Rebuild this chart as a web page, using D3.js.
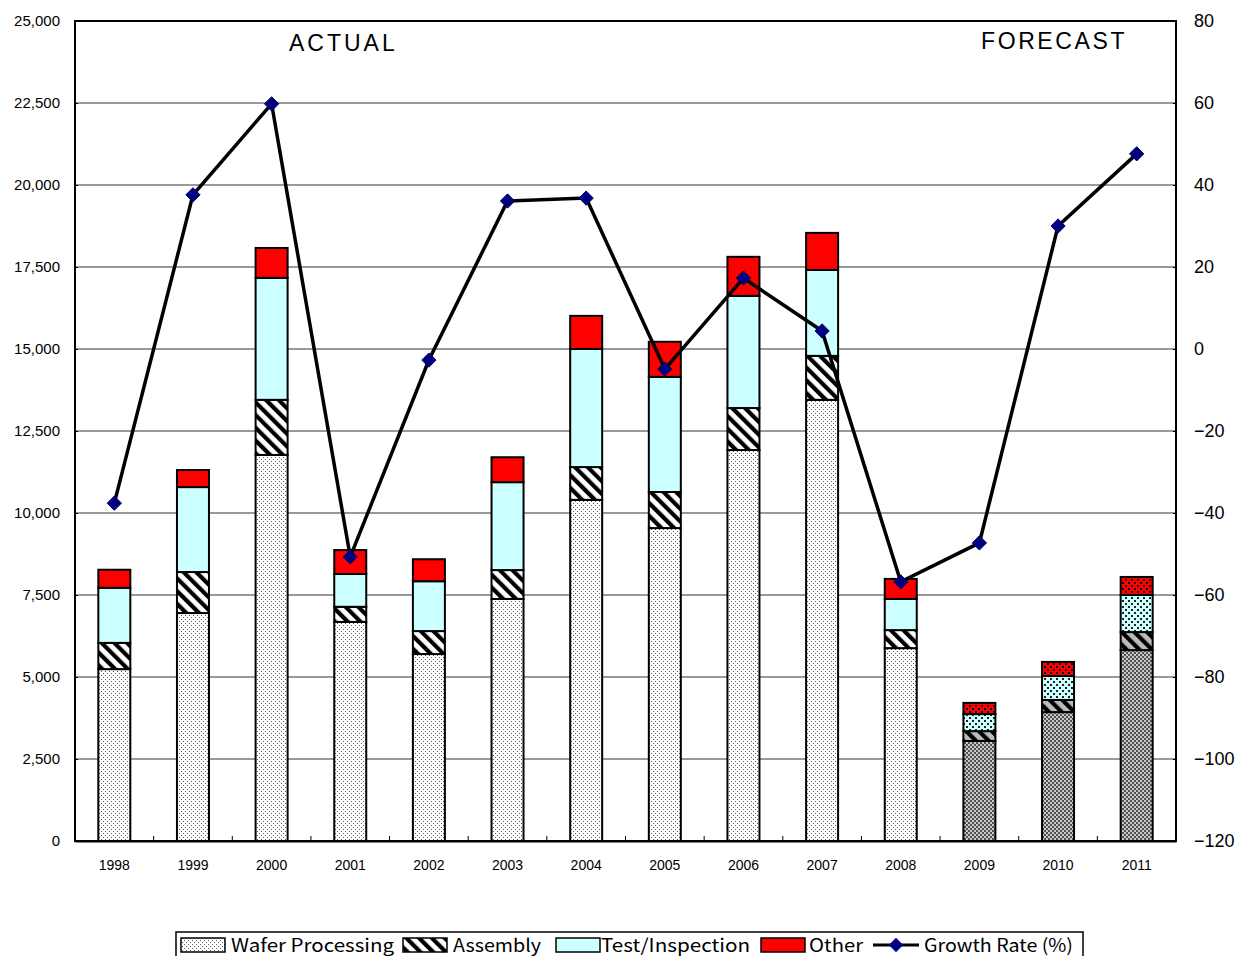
<!DOCTYPE html>
<html>
<head>
<meta charset="utf-8">
<script src="https://cdn.jsdelivr.net/npm/d3@7"></script>
<style>
  body { margin: 0; background: #fff; }
  svg { display: block; }
</style>
</head>
<body>
<div id="chart"></div>
<script>
// data
var years = ["1998","1999","2000","2001","2002","2003","2004","2005","2006","2007","2008","2009","2010","2011"];
var wafer = [5240, 6950, 11770, 6680, 5700, 7380, 10400, 9540, 11920, 13450, 5880, 3050, 3930, 5820];
var assembly = [800, 1250, 1680, 460, 700, 880, 1000, 1100, 1280, 1340, 550, 300, 370, 550];
var testInsp = [1680, 2590, 3720, 1000, 1520, 2680, 3600, 3510, 3420, 2620, 950, 520, 730, 1130];
var other = [550, 520, 910, 730, 670, 760, 1010, 1070, 1190, 1130, 610, 340, 430, 550];
var growth = [-37.6, 37.6, 59.8, -50.7, -2.7, 36.1, 36.8, -4.9, 17.3, 4.4, -56.8, -47.3, 30.0, 47.6];
var forecastFrom = "2009";
var leftTicks = [0, 2500, 5000, 7500, 10000, 12500, 15000, 17500, 20000, 22500, 25000];
var rightTicks = [-120, -100, -80, -60, -40, -20, 0, 20, 40, 60, 80];

var margin = { top: 21, right: 64, bottom: 115, left: 75 },
    width = 1240 - margin.left - margin.right,
    height = 956 - margin.top - margin.bottom;

var svg = d3.select("#chart")
    .append("svg")
    .attr("width", 1240)
    .attr("height", 956);

// patterns
var defs = svg.append("defs");

function dotPattern(id, bg, dot, size, step) {
    var p = defs.append("pattern").attr("id", id)
        .attr("width", step).attr("height", step)
        .attr("patternUnits", "userSpaceOnUse");
    p.append("rect").attr("width", step).attr("height", step).attr("fill", bg);
    p.append("rect").attr("x", 0).attr("y", 0).attr("width", size).attr("height", size).attr("fill", dot);
    p.append("rect").attr("x", step / 2).attr("y", step / 2).attr("width", size).attr("height", size).attr("fill", dot);
}
dotPattern("waferA", "#fff", "#555", 1, 4);
dotPattern("testF", "#ccffff", "#222", 2, 6);
dotPattern("otherF", "#ff0000", "#111", 2, 6);

// forecast wafer: gray cross-hatch
var wf = defs.append("pattern").attr("id", "waferF")
    .attr("width", 4).attr("height", 4).attr("patternUnits", "userSpaceOnUse");
wf.append("rect").attr("width", 4).attr("height", 4).attr("fill", "#c8c8c8");
wf.append("path").attr("d", "M0,0L4,4M4,0L0,4").attr("stroke", "#444").attr("stroke-width", 0.9);

function stripePattern(id, bg, fg) {
    var p = defs.append("pattern").attr("id", id)
        .attr("width", 9).attr("height", 9)
        .attr("patternUnits", "userSpaceOnUse")
        .attr("patternTransform", "rotate(-45)");
    p.append("rect").attr("width", 9).attr("height", 9).attr("fill", bg);
    p.append("rect").attr("x", 0).attr("y", 0).attr("width", 4.2).attr("height", 9).attr("fill", fg);
}
stripePattern("asmA", "#fff", "#000");
stripePattern("asmF", "#bbb", "#000");

var g = svg.append("g")
    .attr("transform", "translate(" + margin.left + "," + margin.top + ")");

var x = d3.scaleBand().domain(years).range([0, width]).paddingInner(0).paddingOuter(0);
var y = d3.scaleLinear().domain([0, 25000]).range([height, 0]);
var y2 = d3.scaleLinear().domain([-120, 80]).range([height, 0]);

// gridlines
g.selectAll(".grid")
    .data(leftTicks.slice(1, -1))
    .enter()
    .append("line")
    .attr("x1", 0).attr("x2", width)
    .attr("y1", function (d) { return y(d); })
    .attr("y2", function (d) { return y(d); })
    .attr("stroke", "#777")
    .attr("stroke-width", 1.3);

// stack
var rows = years.map(function (yr, i) {
    return { year: yr, wafer: wafer[i], assembly: assembly[i], test: testInsp[i], other: other[i] };
});
var keys = ["wafer", "assembly", "test", "other"];
var series = d3.stack().keys(keys)(rows);

function fillFor(key, year) {
    var f = year >= forecastFrom;
    if (key == "wafer") return f ? "url(#waferF)" : "url(#waferA)";
    if (key == "assembly") return f ? "url(#asmF)" : "url(#asmA)";
    if (key == "test") return f ? "url(#testF)" : "#ccffff";
    return f ? "url(#otherF)" : "#ff0000";
}

var barW = 32;
series.forEach(function (s) {
    g.selectAll(".bar-" + s.key)
        .data(s)
        .enter()
        .append("rect")
        .attr("x", function (d) { return x(d.data.year) + x.bandwidth() / 2 - barW / 2; })
        .attr("y", function (d) { return y(d[1]); })
        .attr("width", barW)
        .attr("height", function (d) { return y(d[0]) - y(d[1]); })
        .attr("fill", function (d) { return fillFor(s.key, d.data.year); })
        .attr("stroke", "#000")
        .attr("stroke-width", 2);
});

// frame
g.append("rect")
    .attr("width", width).attr("height", height)
    .attr("fill", "none").attr("stroke", "#000").attr("stroke-width", 2);

// left axis
var yAxis = g.append("g")
    .call(d3.axisLeft(y).tickValues(leftTicks).tickSize(-3).tickPadding(15)
        .tickFormat(d3.format(",")));
yAxis.select(".domain").remove();
yAxis.selectAll("text")
    .style("font-family", "Liberation Sans, Arial, sans-serif")
    .style("font-size", "15px")
    .attr("fill", "#000");

// right axis
var y2Axis = g.append("g")
    .attr("transform", "translate(" + width + ",0)")
    .call(d3.axisRight(y2).tickValues(rightTicks).tickSize(-3).tickPadding(18)
        .tickFormat(function (d) { return d < 0 ? "\u2212" + Math.abs(d) : d; }));
y2Axis.select(".domain").remove();
y2Axis.selectAll("text")
    .style("font-family", "Liberation Sans, Arial, sans-serif")
    .style("font-size", "18px")
    .attr("fill", "#000");

// bottom axis
var xAxis = g.append("g")
    .attr("transform", "translate(0," + height + ")")
    .call(d3.axisBottom(x).tickSize(0).tickPadding(19));
xAxis.select(".domain").attr("stroke-width", 2);
xAxis.selectAll("text")
    .style("font-family", "Liberation Sans, Arial, sans-serif")
    .style("font-size", "14px")
    .attr("fill", "#000");

// small ticks between categories
g.selectAll(".xtick")
    .data(years.slice(1))
    .enter()
    .append("line")
    .attr("x1", function (d) { return x(d); })
    .attr("x2", function (d) { return x(d); })
    .attr("y1", height).attr("y2", height - 5)
    .attr("stroke", "#000").attr("stroke-width", 1);

// growth line
var line = d3.line()
    .x(function (d, i) { return x(years[i]) + x.bandwidth() / 2; })
    .y(function (d) { return y2(d); });

g.append("path")
    .datum(growth)
    .attr("d", line)
    .attr("fill", "none")
    .attr("stroke", "#000")
    .attr("stroke-width", 3.5);

var diamond = d3.symbol().type(d3.symbolDiamond2).size(130);
g.selectAll(".marker")
    .data(growth)
    .enter()
    .append("path")
    .attr("d", diamond)
    .attr("transform", function (d, i) {
        return "translate(" + (x(years[i]) + x.bandwidth() / 2) + "," + y2(d) + ")";
    })
    .attr("fill", "#000080")
    .attr("stroke", "#000060");

// labels
g.append("text").attr("x", 214).attr("y", 30).text("ACTUAL")
    .style("font-family", "Liberation Sans, Arial, sans-serif").style("font-size", "23px")
    .style("letter-spacing", "3px");
g.append("text").attr("x", 906).attr("y", 28).text("FORECAST")
    .style("font-family", "Liberation Sans, Arial, sans-serif").style("font-size", "23px")
    .style("letter-spacing", "2.6px");

// legend
var legend = svg.append("g");
legend.append("rect")
    .attr("x", 176).attr("y", 932).attr("width", 907).attr("height", 40)
    .attr("fill", "#fff").attr("stroke", "#000").attr("stroke-width", 1.5);

var legendItems = [
    { name: "Wafer Processing", fill: "url(#waferA)", sx: 181, tx: 231 },
    { name: "Assembly", fill: "url(#asmA)", sx: 403, tx: 453 },
    { name: "Test/Inspection", fill: "#ccffff", sx: 556, tx: 601 },
    { name: "Other", fill: "#ff0000", sx: 761, tx: 809 },
    { name: "Growth Rate (%)", line: true, sx: 873, tx: 924 }
];
var textW = { "Wafer Processing": 163, "Assembly": 88, "Test/Inspection": 149, "Other": 54, "Growth Rate (%)": 149 };

legendItems.forEach(function (it) {
    if (it.line) {
        legend.append("line")
            .attr("x1", it.sx).attr("x2", it.sx + 46)
            .attr("y1", 945).attr("y2", 945)
            .attr("stroke", "#000").attr("stroke-width", 3);
        legend.append("path")
            .attr("d", diamond)
            .attr("transform", "translate(" + (it.sx + 23) + ",945)")
            .attr("fill", "#000080");
    } else {
        legend.append("rect")
            .attr("x", it.sx).attr("y", 938).attr("width", 44).attr("height", 14)
            .attr("fill", it.fill).attr("stroke", "#000").attr("stroke-width", 1.5);
    }
    legend.append("text")
        .attr("x", it.tx).attr("y", 952)
        .attr("textLength", textW[it.name])
        .attr("lengthAdjust", "spacingAndGlyphs")
        .text(it.name)
        .style("font-family", "'Noto Sans CJK JP', sans-serif")
        .style("font-size", "18px");
});
</script>
</body>
</html>
